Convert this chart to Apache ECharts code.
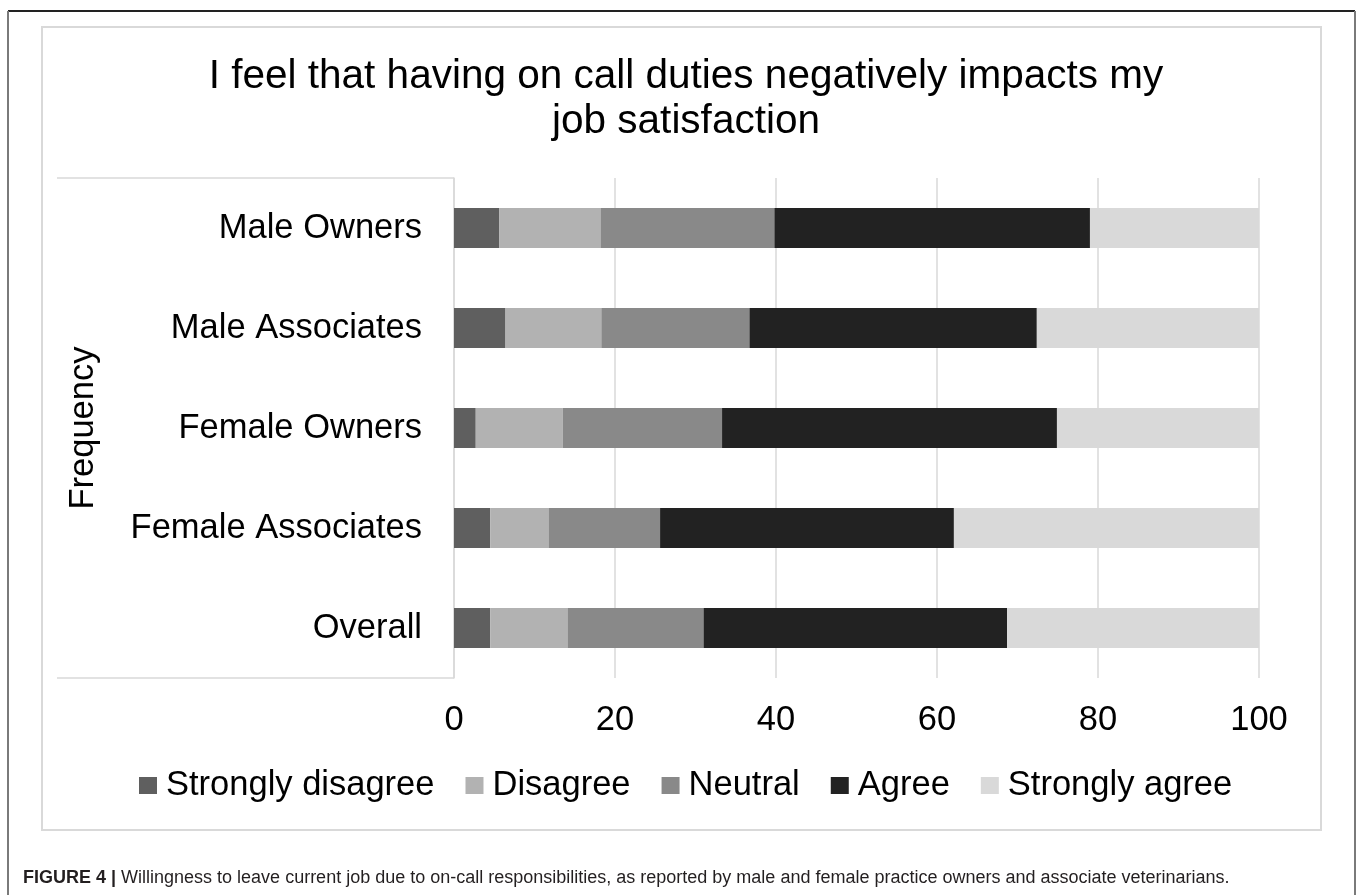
<!DOCTYPE html>
<html>
<head>
<meta charset="utf-8">
<script src="https://cdn.jsdelivr.net/npm/echarts@6/dist/echarts.min.js"></script>
<style>
  html, body { margin: 0; padding: 0; background: #ffffff; }
  #chart { width: 1357px; height: 895px; }
</style>
</head>
<body>
<div id="chart"></div>
<script>
// Survey groups, top to bottom
const groups = ['Male Owners', 'Male Associates', 'Female Owners', 'Female Associates', 'Overall'];

// Response shares (%) per group, same order as groups
const stronglyDisagree = [5.6, 6.4, 2.7, 4.5, 4.5];
const disagree         = [12.6, 11.9, 10.8, 7.3, 9.6];
const neutral          = [21.6, 18.4, 19.8, 13.8, 16.9];
const agree            = [39.2, 35.7, 41.6, 36.5, 37.7];
const stronglyAgree    = [21.0, 27.6, 25.1, 37.9, 31.4];

const responseNames = ['Strongly disagree', 'Disagree', 'Neutral', 'Agree', 'Strongly agree'];
const responseColors = ['#5f5f5f', '#b2b2b2', '#898989', '#222222', '#d9d9d9'];
const responseData = [stronglyDisagree, disagree, neutral, agree, stronglyAgree];

const xTicks = { min: 0, max: 100, interval: 20 };

const FONT = '"Liberation Sans", Arial, Helvetica, sans-serif';
const LABEL_SIZE = 34.5;
const GRID = { left: 454, top: 178, width: 805, height: 500 };

const chart = echarts.init(document.getElementById('chart'), null, { renderer: 'canvas' });

const series = responseNames.map((name, i) => ({
  name: name,
  type: 'bar',
  stack: 'total',
  barWidth: '40%',
  itemStyle: { color: responseColors[i] },
  emphasis: { disabled: true },
  data: responseData[i]
}));

chart.setOption({
  animation: false,
  backgroundColor: '#ffffff',
  title: {
    text: 'I feel that having on call duties negatively impacts my\njob satisfaction',
    left: 681,
    top: 49,
    textAlign: 'center',
    textStyle: {
      fontFamily: FONT,
      fontSize: 40.5,
      fontWeight: 'normal',
      color: '#000000',
      lineHeight: 45
    }
  },
  legend: {
    data: responseNames,
    left: 139,
    top: 768,
    padding: 0,
    icon: 'rect',
    itemWidth: 18,
    itemHeight: 17,
    itemGap: 31,
    selectedMode: false,
    textStyle: { fontFamily: FONT, fontSize: LABEL_SIZE, color: '#000000', padding: [0, 0, 0, 4] }
  },
  grid: { left: GRID.left, top: GRID.top, width: GRID.width, height: GRID.height, containLabel: false },
  xAxis: {
    type: 'value',
    min: xTicks.min,
    max: xTicks.max,
    interval: xTicks.interval,
    axisLine: { show: false },
    axisTick: { show: false },
    splitLine: { show: true, lineStyle: { color: '#d9d9d9', width: 1.5 } },
    axisLabel: { fontFamily: FONT, fontSize: LABEL_SIZE, color: '#000000', margin: 25 }
  },
  yAxis: {
    type: 'category',
    inverse: true,
    data: groups,
    name: 'Frequency',
    nameLocation: 'middle',
    nameRotate: 90,
    nameGap: 353,
    nameTextStyle: { fontFamily: FONT, fontSize: LABEL_SIZE, color: '#000000' },
    axisLine: { show: true, lineStyle: { color: '#d9d9d9', width: 1.5 } },
    axisTick: { show: false },
    splitLine: { show: false },
    axisLabel: { fontFamily: FONT, fontSize: LABEL_SIZE, color: '#000000', margin: 32 }
  },
  graphic: [
    // outer figure border
    { type: 'line', shape: { x1: 8, y1: 11, x2: 1355, y2: 11 }, style: { stroke: '#222222', lineWidth: 2 }, silent: true },
    { type: 'line', shape: { x1: 8, y1: 11, x2: 8, y2: 895 }, style: { stroke: '#7a7a7a', lineWidth: 2 }, silent: true },
    { type: 'line', shape: { x1: 1355, y1: 11, x2: 1355, y2: 895 }, style: { stroke: '#7a7a7a', lineWidth: 2 }, silent: true },
    // chart area frame
    { type: 'rect', shape: { x: 42, y: 27, width: 1279, height: 803 }, style: { fill: null, stroke: '#d9d9d9', lineWidth: 2 }, silent: true },
    // category label box edges
    { type: 'line', shape: { x1: 57, y1: GRID.top, x2: GRID.left, y2: GRID.top }, style: { stroke: '#d9d9d9', lineWidth: 1.5 }, silent: true },
    { type: 'line', shape: { x1: 57, y1: GRID.top + GRID.height, x2: GRID.left, y2: GRID.top + GRID.height }, style: { stroke: '#d9d9d9', lineWidth: 1.5 }, silent: true },
    // figure caption
    {
      type: 'text',
      left: 23,
      top: 869,
      silent: true,
      style: {
        text: '{b|FIGURE 4 |} Willingness to leave current job due to on-call responsibilities, as reported by male and female practice owners and associate veterinarians.',
        fontFamily: FONT,
        fontSize: 18,
        fill: '#231f20',
        rich: {
          b: { fontFamily: FONT, fontSize: 18, fontWeight: 'bold', fill: '#231f20' }
        }
      }
    }
  ],
  series: series
});
</script>
</body>
</html>
